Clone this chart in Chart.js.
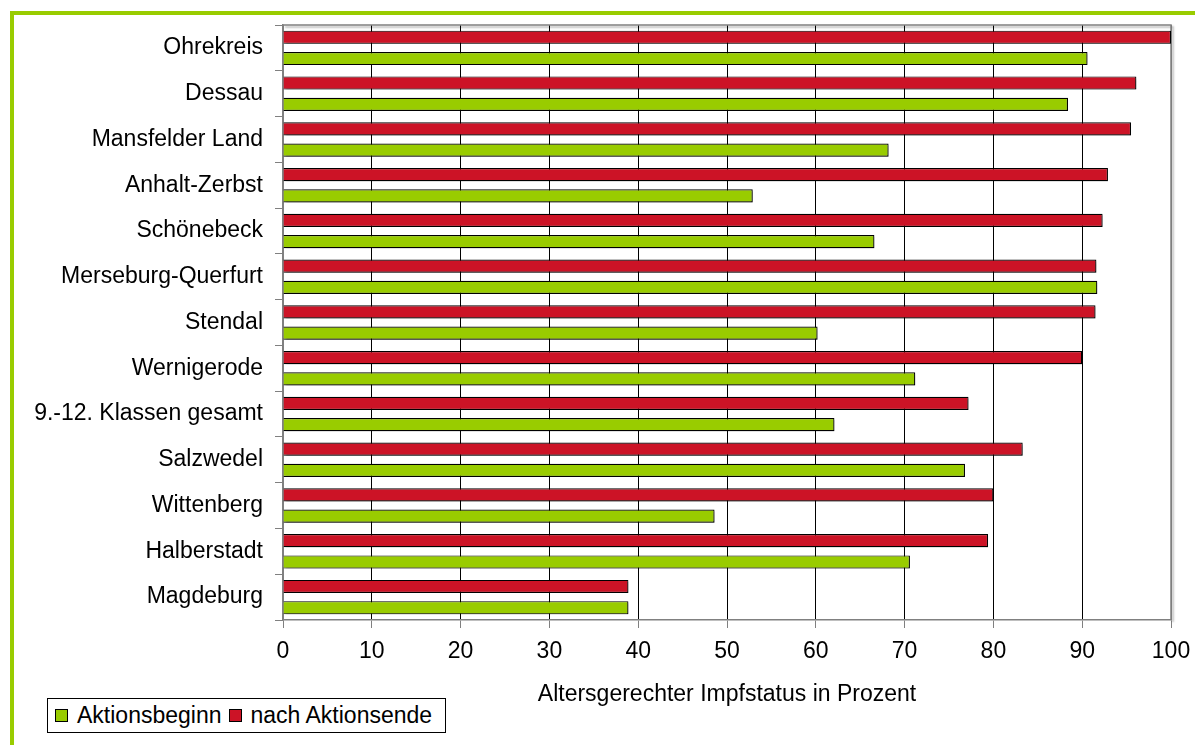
<!DOCTYPE html>
<html lang="de">
<head>
<meta charset="utf-8">
<title>Altersgerechter Impfstatus</title>
<script src="https://cdn.jsdelivr.net/npm/chart.js@4/dist/chart.umd.min.js"></script>
<style>
  html, body { margin: 0; padding: 0; background: #fff; }
  #wrap { position: relative; width: 1195px; height: 745px; overflow: hidden; font-family: 'Liberation Sans', Arial, sans-serif; }
  #frame { position: absolute; left: 10px; top: 11px; width: 1300px; height: 900px; border-left: 4px solid #99cc00; border-top: 4px solid #99cc00; box-sizing: border-box; }
  #chart { position: absolute; left: 0; top: 0; }
  #legend { position: absolute; left: 47px; top: 698px; width: 399px; height: 35px; box-sizing: border-box; border: 1px solid #000; background: #fff; display: flex; align-items: center; font-size: 23px; color: #000; white-space: nowrap; }
  #legend .sw { display: inline-block; width: 13px; height: 13px; box-sizing: border-box; border: 1px solid #000; margin-left: 7px; margin-right: 9px; }
</style>
</head>
<body>
<div id="wrap">
  <div id="frame"></div>
  <canvas id="chart" width="1195" height="745"></canvas>
  <div id="legend"></div>
</div>
<script>
// Districts, top to bottom
const categories = [
  'Ohrekreis', 'Dessau', 'Mansfelder Land', 'Anhalt-Zerbst', 'Schönebeck',
  'Merseburg-Querfurt', 'Stendal', 'Wernigerode', '9.-12. Klassen gesamt',
  'Salzwedel', 'Wittenberg', 'Halberstadt', 'Magdeburg'
];
// Vaccination status (%) after the campaign
const nachAktionsende = [100, 96.1, 95.5, 92.9, 92.3, 91.6, 91.5, 90.0, 77.2, 83.3, 80.0, 79.4, 38.9];
// Vaccination status (%) at the start of the campaign
const aktionsbeginn = [90.6, 88.4, 68.2, 52.9, 66.6, 91.7, 60.2, 71.2, 62.1, 76.8, 48.6, 70.6, 38.9];
// Value axis
const xMin = 0, xMax = 100, xStep = 10;
const axisTitle = 'Altersgerechter Impfstatus in Prozent';
const seriesLabels = ['nach Aktionsende', 'Aktionsbeginn'];

const RED = '#cc1326', GREEN = '#99cc00', GREY = '#808080';
const FONT = { family: "'Liberation Sans', Arial, sans-serif", size: 23 };

// soft drop shadow under the bars
const barShadow = {
  id: 'barShadow',
  beforeDatasetsDraw(chart) {
    const c = chart.ctx;
    c.save();
    c.shadowColor = 'rgba(0,0,0,0.3)';
    c.shadowOffsetX = 2;
    c.shadowOffsetY = 2;
    c.shadowBlur = 2;
  },
  afterDatasetsDraw(chart) { chart.ctx.restore(); }
};

// grey frame along the top and right of the plot area
const plotFrame = {
  id: 'plotFrame',
  beforeDatasetsDraw(chart) {
    const { ctx, chartArea: a } = chart;
    ctx.save();
    ctx.strokeStyle = GREY;
    ctx.lineWidth = 1.5;
    ctx.beginPath();
    ctx.moveTo(a.left, a.top);
    ctx.lineTo(a.right, a.top);
    ctx.lineTo(a.right, a.bottom);
    ctx.stroke();
    ctx.restore();
  }
};

const barStyle = { borderColor: '#000', borderWidth: 1.2, categoryPercentage: 0.93, barPercentage: 0.62 };

const chart = new Chart(document.getElementById('chart'), {
  type: 'bar',
  data: {
    labels: categories,
    datasets: [
      Object.assign({ label: seriesLabels[0], data: nachAktionsende, backgroundColor: RED }, barStyle),
      Object.assign({ label: seriesLabels[1], data: aktionsbeginn, backgroundColor: GREEN }, barStyle)
    ]
  },
  options: {
    indexAxis: 'y',
    responsive: false,
    animation: false,
    layout: { padding: { left: 0, top: 25, right: 24, bottom: 0 } },
    plugins: { legend: { display: false }, tooltip: { enabled: false } },
    scales: {
      x: {
        min: xMin, max: xMax,
        ticks: { stepSize: xStep, font: FONT, color: '#000', padding: 10 },
        grid: {
          color: ctx => (ctx.tick && (ctx.tick.value === xMin || ctx.tick.value === xMax)) ? GREY : '#000',
          tickColor: GREY, tickLength: 8, lineWidth: 1
        },
        border: { color: GREY, width: 1.5 },
        title: { display: true, text: axisTitle, font: FONT, color: '#000', padding: { top: 4, bottom: 37 } },
        afterFit(scale) {
          scale.height = 125;
          scale.paddingLeft = 0;
          scale.paddingRight = 0;
        }
      },
      y: {
        ticks: { font: FONT, color: '#000', padding: 12 },
        grid: { drawOnChartArea: false, tickColor: GREY, tickLength: 8, offset: true },
        border: { color: GREY, width: 1.5 },
        afterFit(scale) {
          scale.width = 283;
          scale.paddingTop = 0;
          scale.paddingBottom = 0;
        }
      }
    }
  },
  plugins: [barShadow, plotFrame]
});

// legend box: series listed in reverse dataset order
const legend = document.getElementById('legend');
chart.data.datasets.slice().reverse().forEach(ds => {
  const sw = document.createElement('span');
  sw.className = 'sw';
  sw.style.background = ds.backgroundColor;
  const tx = document.createElement('span');
  tx.textContent = ds.label;
  legend.appendChild(sw);
  legend.appendChild(tx);
});
</script>
</body>
</html>
